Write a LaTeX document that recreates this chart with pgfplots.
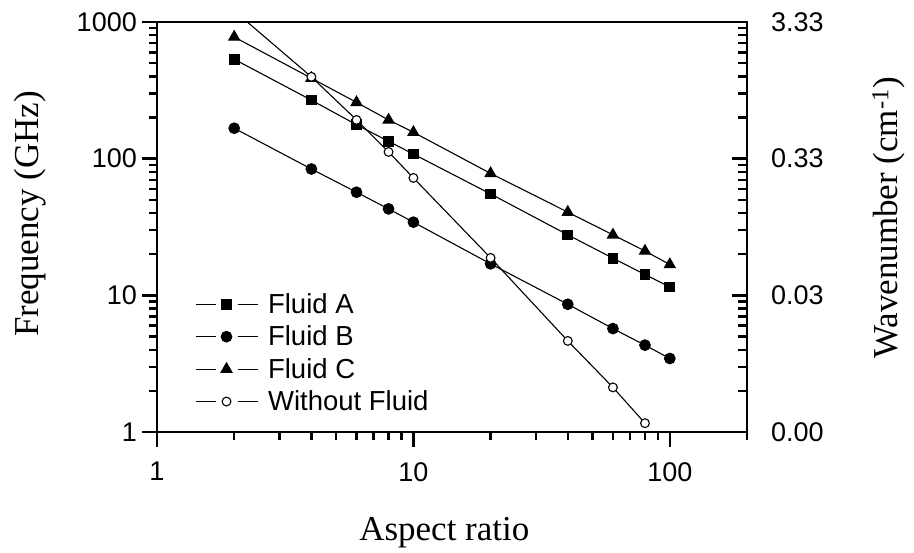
\documentclass[border=0pt]{standalone}
\usepackage{fontspec}
\setmainfont{Liberation Serif}
\setsansfont{Liberation Sans}
\usepackage{pgfplots}
\usepackage{pgfplotstable}
\pgfplotsset{compat=1.18}

\pgfplotstableread{
x A B C
2 534 167 777
4 268 84 388
6 177 56.8 258
8 134 42.9 192
10 108 34.3 156
20 55.2 17.0 78
40 27.7 8.6 40.6
60 18.7 5.71 27.7
80 14.2 4.32 21.1
100 11.5 3.45 16.8
}\fluids

\pgfplotstableread{
x W
2 1208
4 397
6 192
8 112
10 72.3
20 18.8
40 4.64
60 2.12
80 1.16
}\nofluid

\begin{document}
\begin{tikzpicture}
\path[use as bounding box] (0,0) rectangle (914pt,553pt);
\begin{axis}[
  at={(157pt,121pt)}, anchor=south west,
  scale only axis, width=590pt, height=410pt,
  xmode=log, ymode=log,
  xmin=1, xmax=200, ymin=1, ymax=1000,
  xtick={1,10,100}, xticklabels={1,10,100},
  ytick={1,10,100,1000}, yticklabels={1,10,100,1000},
  minor xtick={2,3,4,5,6,7,8,9,20,30,40,50,60,70,80,90,200},
  minor ytick={2,3,4,5,6,7,8,9,20,30,40,50,60,70,80,90,200,300,400,500,600,700,800,900},
  xtick pos=left, ytick pos=left,
  tick align=outside,
  major tick length=15pt, minor tick length=8pt,
  tick style={black, line width=2.4pt},
  axis line style={line width=2.6pt},
  ticklabel style={font=\fontsize{27}{27}\selectfont\sffamily, inner sep=0pt},
  xticklabel style={anchor=north, yshift=-15pt},
  yticklabel style={anchor=east, xshift=-5pt},
  xlabel={Aspect ratio},
  xlabel style={at={(axis description cs:0.487,-0.245)}, anchor=center, font=\fontsize{35}{35}\selectfont},
  ylabel={Frequency (GHz)},
  ylabel style={at={(axis description cs:-0.215,0.532)}, anchor=center, font=\fontsize{35}{35}\selectfont},
  clip marker paths=true,
  every axis plot/.append style={line width=1.1pt, black},
  legend style={at={(axis description cs:0.064,0.343)}, anchor=north west, draw=none, fill=none,
    font=\fontsize{27.5}{27.5}\selectfont\sffamily, inner sep=0pt, row sep=7pt, column sep=8pt},
  legend cell align=left,
  legend image code/.code={
    \draw[#1] (0pt,0pt) -- (20pt,0pt) (42pt,0pt) -- (62pt,0pt);
    \draw[#1] plot coordinates {(31pt,0pt)};
  },
]
\addplot[mark=square*, mark size=4.8pt, mark options={fill=black}] table[x=x, y=A] {\fluids};
\addlegendentry{Fluid A}
\addplot[mark=*, mark size=5.3pt, mark options={fill=black}] table[x=x, y=B] {\fluids};
\addlegendentry{Fluid B}
\addplot[mark=triangle*, mark size=6.2pt, mark options={fill=black}] table[x=x, y=C] {\fluids};
\addlegendentry{Fluid C}
\addplot[mark=*, mark size=4.4pt, mark options={fill=white}] table[x=x, y=W] {\nofluid};
\addlegendentry{Without Fluid}
\end{axis}
\begin{axis}[
  at={(157pt,121pt)}, anchor=south west,
  scale only axis, width=590pt, height=410pt,
  xmode=log, ymode=log,
  xmin=1, xmax=200, ymin=1, ymax=1000,
  axis x line=none,
  axis y line*=right,
  ytick={1,10,100,1000}, yticklabels={0.00,0.03,0.33,3.33},
  minor ytick={2,3,4,5,6,7,8,9,20,30,40,50,60,70,80,90,200,300,400,500,600,700,800,900},
  tick align=inside,
  major tick length=15pt, minor tick length=9pt,
  tick style={black, line width=2.4pt},
  axis line style={line width=2.6pt},
  ticklabel style={font=\fontsize{27}{27}\selectfont\sffamily, inner sep=0pt},
  yticklabel style={anchor=west, xshift=24pt},
  ylabel={Wavenumber (cm\textsuperscript{-1})},
  ylabel style={at={(axis description cs:1.240,0.522)}, anchor=center, font=\fontsize{35}{35}\selectfont},
]
\addplot[draw=none] coordinates {(1,1)};
\end{axis}
\end{tikzpicture}
\end{document}
